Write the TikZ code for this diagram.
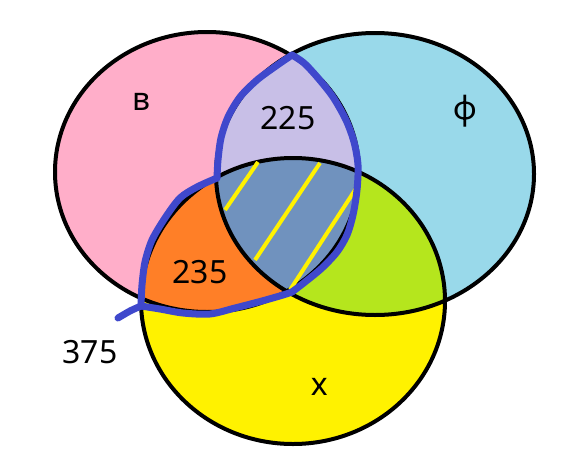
\documentclass[tikz,border=0pt]{standalone}
\usepackage{fontspec}
\setmainfont{Noto Sans}
\definecolor{vpink}{HTML}{FFAEC9}
\definecolor{vblue}{HTML}{99D9EA}
\definecolor{vyellow}{HTML}{FFF200}
\definecolor{vlilac}{HTML}{C8BFE7}
\definecolor{vorange}{HTML}{FF7F27}
\definecolor{vlime}{HTML}{B5E61D}
\definecolor{vslate}{HTML}{7092BE}
\definecolor{vpen}{HTML}{3F48CC}
\newcommand{\setB}{(207pt,-172pt) ellipse [x radius=152pt, y radius=140pt]}
\newcommand{\setF}{(375pt,-174pt) ellipse [x radius=159pt, y radius=141pt]}
\newcommand{\setX}{(293pt,-301pt) ellipse [x radius=152pt, y radius=143pt]}
\begin{document}
\begin{tikzpicture}[
  rim/.style={color=black, line width=4pt},
  pen/.style={color=vpen, line width=7pt, line cap=round, line join=round},
  hatch/.style={color=vyellow, line width=4pt},
  lbl/.style={inner sep=0pt, font=\fontsize{32}{38}\selectfont}]
\useasboundingbox (0pt,0pt) rectangle (567pt,-463pt);
\fill[vpink] \setB;
\fill[vblue] \setF;
\fill[vyellow] \setX;
\begin{scope}
\clip \setB;
\fill[vlilac] \setF;
\fill[vorange] \setX;
\end{scope}
\begin{scope}
\clip \setF;
\fill[vlime] \setX;
\end{scope}
\begin{scope}
\clip \setB;
\clip \setF;
\fill[vslate] \setX;
\end{scope}
\draw[rim] \setB;
\draw[rim] \setF;
\draw[rim] \setX;
\draw[hatch] (225pt,-210pt) -- (258pt,-162pt);
\draw[hatch] (255pt,-260pt) -- (320pt,-163pt);
\draw[hatch] (290pt,-290pt) -- (357pt,-187pt);
\draw[pen] plot[smooth] coordinates {(217pt,-178pt) (218pt,-160pt) (221pt,-138pt) (228pt,-117pt) (240pt,-97pt) (257pt,-80pt) (276pt,-66pt) (292pt,-55pt)};
\draw[pen] plot[smooth] coordinates {(292pt,-55pt) (304pt,-63pt) (318pt,-78pt) (333pt,-97pt) (346pt,-120pt) (354pt,-142pt) (358pt,-165pt) (357pt,-190pt) (353pt,-215pt) (347pt,-235pt) (337pt,-252pt) (322pt,-268pt) (305pt,-282pt) (292pt,-292pt)};
\draw[pen] plot[smooth] coordinates {(217pt,-178pt) (197pt,-187pt) (180pt,-198pt) (165pt,-218pt) (152pt,-240pt) (145pt,-262pt) (142pt,-285pt) (141pt,-306pt)};
\draw[pen] plot[smooth] coordinates {(141pt,-306pt) (160pt,-309pt) (183pt,-313pt) (210pt,-314pt) (235pt,-308pt) (262pt,-301pt) (283pt,-295pt) (292pt,-292pt)};
\draw[pen] plot[smooth] coordinates {(141pt,-306pt) (130pt,-311pt) (118pt,-318pt)};
\node[lbl] (nameB) at (142pt,-102pt) {в};
\node[lbl] (nameF) at (465pt,-111pt) {ф};
\node[lbl] (nameX) at (320pt,-387pt) {х};
\node[lbl] (numBF) at (288pt,-118pt) {225};
\node[lbl] (numBX) at (200pt,-272pt) {235};
\node[lbl] (numOut) at (90pt,-352pt) {375};
\end{tikzpicture}
\end{document}
